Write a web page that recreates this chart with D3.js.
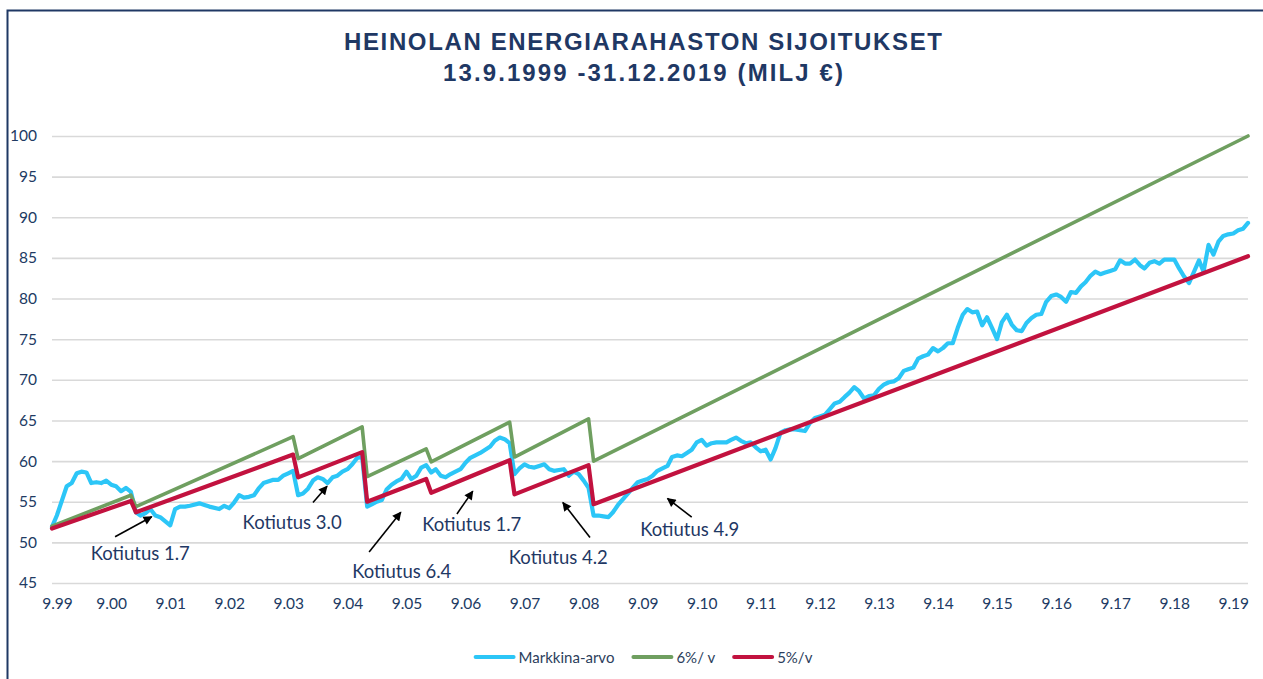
<!DOCTYPE html>
<html>
<head>
<meta charset="utf-8">
<script src="https://cdn.jsdelivr.net/npm/d3@7"></script>
<style>
    body { margin: 0; background: #ffffff; }
    #chart { width: 1263px; height: 679px; }
    .title { font-family: "Liberation Sans", Arial, sans-serif; font-weight: bold; font-size: 24px; fill: #1f3864; }
    .tick text { font-family: Lato, "Noto Sans", sans-serif; font-size: 15.5px; fill: #213a63; }
    .grid line { stroke: #d9d9d9; stroke-width: 1.6; }
    .note { font-family: Lato, "Noto Sans", sans-serif; font-size: 18.5px; fill: #1f3864; }
    .legendText { font-family: Lato, "Noto Sans", sans-serif; font-size: 15px; fill: #2c3e5c; }
</style>
</head>
<body>
<div id="chart"></div>
<script>
// months shown on the axis
const xTickDates = ["1999-09", "2000-09", "2001-09", "2002-09", "2003-09", "2004-09", "2005-09",
    "2006-09", "2007-09", "2008-09", "2009-09", "2010-09", "2011-09", "2012-09", "2013-09",
    "2014-09", "2015-09", "2016-09", "2017-09", "2018-09", "2019-09"];
const yTicks = [45, 50, 55, 60, 65, 70, 75, 80, 85, 90, 95, 100];

const seriesNames = ["Markkina-arvo", "6%/ v", "5%/v"];

// market value (milj €)
const marketValue = [
    ["1999-09", 51.9], ["1999-10", 53.3], ["1999-12", 56.9], ["2000-01", 57.3], ["2000-02", 58.5],
    ["2000-03", 58.7], ["2000-04", 58.6], ["2000-05", 57.3], ["2000-06", 57.4], ["2000-07", 57.3],
    ["2000-08", 57.6], ["2000-09", 57.1], ["2000-10", 56.9], ["2000-11", 56.3], ["2000-12", 56.7],
    ["2001-01", 56.2], ["2001-02", 53.7], ["2001-03", 53.3], ["2001-04", 53.6], ["2001-05", 54.1],
    ["2001-06", 53.3], ["2001-07", 53.1], ["2001-09", 52.1], ["2001-10", 54.1], ["2001-11", 54.4],
    ["2001-12", 54.4], ["2002-01", 54.5], ["2002-03", 54.8], ["2002-04", 54.6], ["2002-05", 54.4],
    ["2002-07", 54.1], ["2002-08", 54.5], ["2002-09", 54.2], ["2002-10", 54.9], ["2002-11", 55.8],
    ["2002-12", 55.5], ["2003-01", 55.6], ["2003-02", 55.8], ["2003-03", 56.6], ["2003-04", 57.3],
    ["2003-06", 57.7], ["2003-07", 57.7], ["2003-08", 58.2], ["2003-09", 58.5], ["2003-10", 58.8],
    ["2003-11", 55.8], ["2003-12", 56.0], ["2004-01", 56.6], ["2004-02", 57.6], ["2004-03", 58.0],
    ["2004-04", 57.8], ["2004-05", 57.3], ["2004-06", 58.0], ["2004-07", 58.2], ["2004-08", 58.7],
    ["2004-09", 59.0], ["2004-10", 59.6], ["2004-11", 60.4], ["2004-12", 60.5], ["2005-01", 54.4],
    ["2005-02", 54.7], ["2005-03", 55.0], ["2005-04", 55.2], ["2005-05", 56.5], ["2005-06", 57.1],
    ["2005-07", 57.5], ["2005-08", 57.8], ["2005-09", 58.7], ["2005-10", 57.8], ["2005-11", 58.2],
    ["2005-12", 59.2], ["2006-01", 59.5], ["2006-02", 58.6], ["2006-03", 59.0], ["2006-04", 58.2],
    ["2006-05", 58.0], ["2006-06", 58.4], ["2006-07", 58.7], ["2006-08", 59.0], ["2006-09", 59.8],
    ["2006-10", 60.4], ["2006-11", 60.7], ["2006-12", 61.0], ["2007-01", 61.4], ["2007-02", 61.8],
    ["2007-03", 62.5], ["2007-04", 62.9], ["2007-05", 62.7], ["2007-06", 62.2], ["2007-07", 58.4],
    ["2007-08", 59.1], ["2007-09", 59.6], ["2007-10", 59.3], ["2007-11", 59.2], ["2007-12", 59.4],
    ["2008-01", 59.6], ["2008-02", 59.0], ["2008-03", 58.8], ["2008-04", 58.9], ["2008-05", 59.0],
    ["2008-06", 58.2], ["2008-07", 58.7], ["2008-08", 58.4], ["2008-09", 57.6], ["2008-10", 56.7],
    ["2008-11", 53.3], ["2008-12", 53.3], ["2009-01", 53.2], ["2009-02", 53.1], ["2009-03", 53.7],
    ["2009-04", 54.6], ["2009-05", 55.3], ["2009-06", 56.0], ["2009-07", 56.7], ["2009-08", 57.4],
    ["2009-09", 57.6], ["2009-10", 57.8], ["2009-11", 58.2], ["2009-12", 58.8], ["2010-01", 59.1],
    ["2010-02", 59.4], ["2010-03", 60.5], ["2010-04", 60.7], ["2010-05", 60.6], ["2010-06", 61.0],
    ["2010-07", 61.4], ["2010-08", 62.3], ["2010-09", 62.6], ["2010-10", 61.9], ["2010-11", 62.2],
    ["2010-12", 62.3], ["2011-01", 62.3], ["2011-02", 62.3], ["2011-03", 62.6], ["2011-04", 62.9],
    ["2011-05", 62.5], ["2011-06", 62.2], ["2011-07", 62.3], ["2011-08", 61.7], ["2011-09", 61.2],
    ["2011-10", 61.4], ["2011-11", 60.2], ["2011-12", 61.6], ["2012-01", 63.5], ["2012-02", 63.8],
    ["2012-03", 63.9], ["2012-04", 63.9], ["2012-05", 63.8], ["2012-06", 63.7], ["2012-07", 64.7],
    ["2012-08", 65.3], ["2012-09", 65.5], ["2012-10", 65.7], ["2012-11", 66.4], ["2012-12", 67.1],
    ["2013-01", 67.3], ["2013-02", 67.9], ["2013-03", 68.4], ["2013-04", 69.1], ["2013-05", 68.6],
    ["2013-06", 67.7], ["2013-07", 68.0], ["2013-08", 68.1], ["2013-09", 68.9], ["2013-10", 69.4],
    ["2013-11", 69.7], ["2013-12", 69.8], ["2014-01", 70.2], ["2014-02", 71.1], ["2014-03", 71.3],
    ["2014-04", 71.5], ["2014-05", 72.6], ["2014-06", 72.9], ["2014-07", 73.1], ["2014-08", 73.9],
    ["2014-09", 73.5], ["2014-10", 73.9], ["2014-11", 74.5], ["2014-12", 74.5], ["2015-01", 76.4],
    ["2015-02", 78.0], ["2015-03", 78.7], ["2015-04", 78.3], ["2015-05", 78.4], ["2015-06", 76.7],
    ["2015-07", 77.7], ["2015-08", 76.4], ["2015-09", 75.0], ["2015-10", 77.1], ["2015-11", 78.0],
    ["2015-12", 76.8], ["2016-01", 76.1], ["2016-02", 76.0], ["2016-03", 77.0], ["2016-04", 77.6],
    ["2016-05", 78.0], ["2016-06", 78.1], ["2016-07", 79.6], ["2016-08", 80.3], ["2016-09", 80.5],
    ["2016-10", 80.2], ["2016-11", 79.6], ["2016-12", 80.8], ["2017-01", 80.7], ["2017-02", 81.5],
    ["2017-03", 82.0], ["2017-04", 82.8], ["2017-05", 83.3], ["2017-06", 83.0], ["2017-07", 83.2],
    ["2017-08", 83.4], ["2017-09", 83.6], ["2017-10", 84.7], ["2017-11", 84.3], ["2017-12", 84.3],
    ["2018-01", 84.8], ["2018-02", 84.1], ["2018-03", 83.7], ["2018-04", 84.4], ["2018-05", 84.6],
    ["2018-06", 84.3], ["2018-07", 84.8], ["2018-08", 84.8], ["2018-09", 84.8], ["2018-10", 83.7],
    ["2018-11", 82.7], ["2018-12", 81.9], ["2019-01", 83.3], ["2019-02", 84.7], ["2019-03", 83.3],
    ["2019-04", 86.6], ["2019-05", 85.4], ["2019-06", 87.0], ["2019-07", 87.7], ["2019-08", 87.9],
    ["2019-09", 88.0], ["2019-10", 88.4], ["2019-11", 88.6], ["2019-12", 89.3]
];

// 6 % / year target path, with the drops at each withdrawal
const growth6 = [
    ["1999-09", 52.0], ["2001-01", 55.8], ["2001-02", 54.4], ["2003-10", 63.0], ["2003-11", 60.3],
    ["2004-12", 64.2], ["2005-01", 58.1], ["2006-01", 61.5], ["2006-02", 59.9], ["2007-06", 64.8],
    ["2007-07", 60.5], ["2008-10", 65.2], ["2008-11", 60.0], ["2019-12", 100.0]
];

// 5 % / year target path
const growth5 = [
    ["1999-09", 51.7], ["2001-01", 55.1], ["2001-02", 53.7], ["2003-10", 60.8], ["2003-11", 58.0],
    ["2004-12", 61.1], ["2005-01", 55.0], ["2006-01", 57.8], ["2006-02", 56.1], ["2007-06", 60.1],
    ["2007-07", 55.9], ["2008-10", 59.5], ["2008-11", 54.7], ["2019-12", 85.2]
];

// withdrawal notes: text, where its arrow points, where the arrow starts, where the text sits
const noteTexts = ["Kotiutus 1.7", "Kotiutus 3.0", "Kotiutus 6.4", "Kotiutus 1.7", "Kotiutus 4.2", "Kotiutus 4.9"];
const noteTips = [["2001-05-10", 53.15], ["2004-04-28", 56.9], ["2005-07-28", 53.7],
    ["2006-10-16", 56.3], ["2008-04-25", 54.9], ["2010-02-01", 55.4]];
const noteTails = [["2000-09-25", 50.7], ["2004-02-01", 54.9], ["2005-01-13", 48.8],
    ["2006-07-10", 53.5], ["2008-10-10", 50.6], ["2010-07-01", 53.1]];
const noteAnchors = [["2001-02-28", 48.7], ["2003-09-25", 52.5], ["2005-08-03", 46.5],
    ["2006-10-10", 52.2], ["2008-03-28", 48.2], ["2010-06-19", 51.6]];

var parseMonth = d3.timeParse("%Y-%m");
var parseDay = d3.timeParse("%Y-%m-%d");
function parseDate(s) {
    return s.length > 7 ? parseDay(s) : parseMonth(s);
}

/**
 * Constructor for the fund chart
 */
function FundChart() {
    var self = this;
    self.init();
}

/**
 * Sets up the svg, frame and scales
 */
FundChart.prototype.init = function () {
    var self = this;
    self.width = 1263;
    self.height = 679;
    self.plot = {left: 52, right: 1248, top: 136, bottom: 583};
    self.colors = ["#2cc6f7", "#6f9f60", "#c2123f"];
    self.widths = [4.2, 3.6, 4.2];

    self.svg = d3.select("#chart").append("svg")
        .attr("width", self.width)
        .attr("height", self.height);

    self.svg.append("defs").append("marker")
        .attr("id", "arrow")
        .attr("viewBox", "0 0 10 10")
        .attr("refX", 9).attr("refY", 5)
        .attr("markerUnits", "userSpaceOnUse")
        .attr("markerWidth", 10).attr("markerHeight", 9)
        .attr("orient", "auto")
        .append("path").attr("d", "M0,0 L10,5 L0,10 z").attr("fill", "#000");

    // the frame only shows on the top and left
    self.svg.append("path")
        .attr("d", "M7.5," + (self.height + 2) + " V10.5 H" + (self.width + 2))
        .attr("fill", "none").attr("stroke", "#1f3864").attr("stroke-width", 2);

    self.x = d3.scaleTime()
        .domain([parseDate("1999-09"), parseDate("2019-12")])
        .range([self.plot.left, self.plot.right]);
    self.y = d3.scaleLinear()
        .domain([45, 100])
        .range([self.plot.bottom, self.plot.top]);
};

/**
 * Title, axes and grid
 */
FundChart.prototype.drawFrame = function () {
    var self = this;
    var mid = 643;

    self.svg.append("text").attr("class", "title")
        .attr("x", mid).attr("y", 50).attr("text-anchor", "middle")
        .attr("textLength", 598).attr("lengthAdjust", "spacing")
        .text("HEINOLAN ENERGIARAHASTON SIJOITUKSET");
    self.svg.append("text").attr("class", "title")
        .attr("x", mid).attr("y", 81).attr("text-anchor", "middle")
        .attr("textLength", 400).attr("lengthAdjust", "spacing")
        .text("13.9.1999 -31.12.2019 (MILJ €)");

    var yAxis = d3.axisLeft(self.y)
        .tickValues(yTicks)
        .tickSize(-(self.plot.right - self.plot.left))
        .tickPadding(15)
        .tickFormat(d3.format("d"));
    var gy = self.svg.append("g").attr("class", "grid")
        .attr("transform", "translate(" + self.plot.left + ",0)")
        .call(yAxis);
    gy.select(".domain").remove();

    var xAxis = d3.axisBottom(self.x)
        .tickValues(xTickDates.map(parseDate))
        .tickSize(0)
        .tickPadding(15)
        .tickFormat(d3.timeFormat("%-m.%y"));
    var gx = self.svg.append("g")
        .attr("transform", "translate(0," + self.plot.bottom + ")")
        .call(xAxis);
    gx.select(".domain").remove();
    // excel nudges the first label away from the edge
    gx.selectAll(".tick text").filter(function (d, i) { return i == 0; }).attr("dx", 5);
};

/**
 * Draws the three lines
 */
FundChart.prototype.drawLines = function () {
    var self = this;
    var line = d3.line()
        .x(function (d) { return self.x(parseDate(d[0])); })
        .y(function (d) { return self.y(d[1]); });

    [marketValue, growth6, growth5].forEach(function (series, i) {
        self.svg.append("path")
            .datum(series)
            .attr("d", line)
            .attr("fill", "none")
            .attr("stroke", self.colors[i])
            .attr("stroke-width", self.widths[i])
            .attr("stroke-linejoin", "round")
            .attr("stroke-linecap", "round");
    });
};

/**
 * Withdrawal notes with arrows
 */
FundChart.prototype.drawNotes = function () {
    var self = this;
    noteTexts.forEach(function (t, i) {
        self.svg.append("line")
            .attr("x1", self.x(parseDate(noteTails[i][0]))).attr("y1", self.y(noteTails[i][1]))
            .attr("x2", self.x(parseDate(noteTips[i][0]))).attr("y2", self.y(noteTips[i][1]))
            .attr("stroke", "#000").attr("stroke-width", 1.6)
            .attr("marker-end", "url(#arrow)");
        self.svg.append("text").attr("class", "note")
            .attr("x", self.x(parseDate(noteAnchors[i][0])))
            .attr("y", self.y(noteAnchors[i][1]))
            .attr("text-anchor", "middle")
            .attr("dominant-baseline", "central")
            .text(t);
    });
};

/**
 * Legend under the axis, centred
 */
FundChart.prototype.drawLegend = function () {
    var self = this;
    var g = self.svg.append("g");
    var cx = 0;
    var ly = 657;
    seriesNames.forEach(function (name, i) {
        g.append("line")
            .attr("x1", cx).attr("x2", cx + 38)
            .attr("y1", ly).attr("y2", ly)
            .attr("stroke", self.colors[i]).attr("stroke-width", 4)
            .attr("stroke-linecap", "round");
        var txt = g.append("text").attr("class", "legendText")
            .attr("x", cx + 43).attr("y", ly)
            .attr("dominant-baseline", "central")
            .text(name);
        cx += 43 + txt.node().getComputedTextLength() + 19;
    });
    var total = cx - 19;
    g.attr("transform", "translate(" + (644 - total / 2) + ",0)");
};

var chart = new FundChart();
chart.drawFrame();
chart.drawLines();
chart.drawNotes();
chart.drawLegend();
</script>
</body>
</html>
